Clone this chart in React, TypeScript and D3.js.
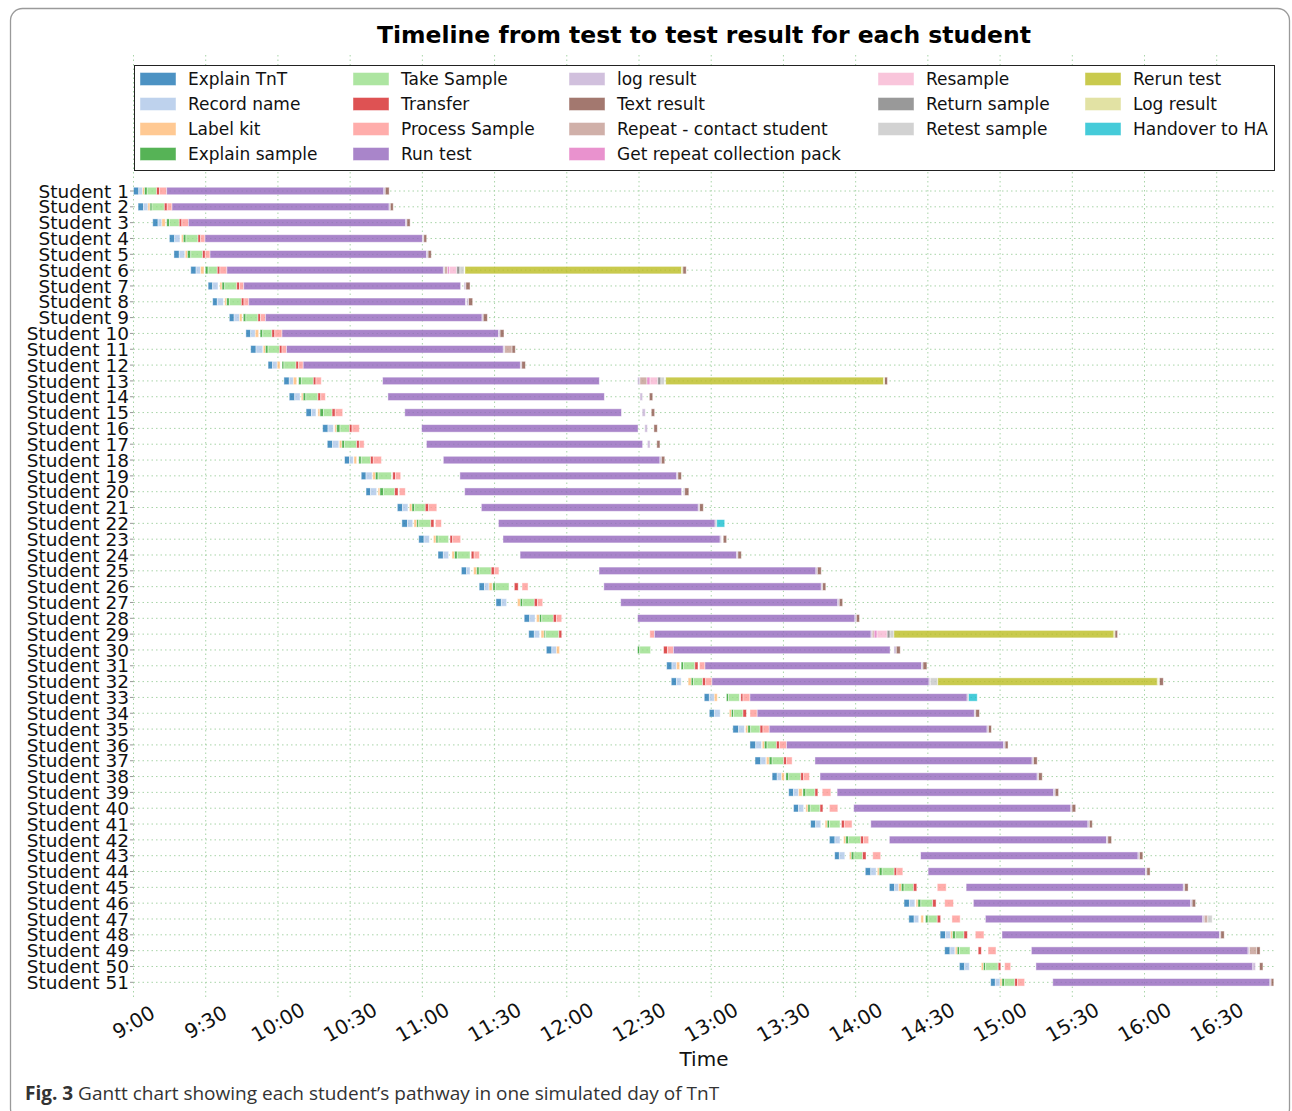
import React from 'react';
import * as d3 from 'd3';

const W = 1292;
const H = 1111;

const students = d3.range(1, 52).map(i => `Student ${i}`);

// x axis: minutes after 9:00
const tickMinutes = [0, 30, 60, 90, 120, 150, 180, 210, 240, 270, 300, 330, 360, 390, 420, 450];
const tickLabels = ['9:00', '9:30', '10:00', '10:30', '11:00', '11:30', '12:00', '12:30', '13:00',
  '13:30', '14:00', '14:30', '15:00', '15:30', '16:00', '16:30'];

const activityNames = ['Explain TnT', 'Record name', 'Label kit', 'Explain sample', 'Take Sample',
  'Transfer', 'Process Sample', 'Run test', 'log result', 'Text result', 'Repeat - contact student',
  'Get repeat collection pack', 'Resample', 'Return sample', 'Retest sample', 'Rerun test',
  'Log result', 'Handover to HA'];
const activityColors = ['#1f77b4', '#aec7e8', '#ffbb78', '#2ca02c', '#98df8a', '#d62728', '#ff9896',
  '#9467bd', '#c5b0d5', '#8c564b', '#c49c94', '#e377c2', '#f7b6d2', '#7f7f7f', '#c7c7c7', '#bcbd22',
  '#dbdb8d', '#17becf'];

// [start, end] in minutes, one pair per student (index = student - 1)
const explainTnT = [[0,2.2],[1.9,4.1],[8.0,10.2],[14.9,17.1],[16.8,19.0],[23.8,26.0],[31.0,32.9],[32.9,34.8],[39.8,41.8],[46.7,48.7],
  [48.7,50.9],[55.9,57.8],[62.5,64.7],[64.7,67.0],[71.7,73.9],[78.6,80.8],[80.5,82.7],[87.7,89.7],[94.6,96.6],[96.6,98.5],
  [109.6,111.8],[111.5,113.8],[118.5,120.7],[126.5,128.7],[136.2,138.4],[143.6,145.8],[150.6,152.8],[162.3,164.6],[164.2,166.5],[171.5,173.8],
  [221.5,223.7],[223.4,225.6],[237.1,239.2],[239.2,241.3],[249.0,251.4],[256.1,258.5],[258.2,260.6],[265.3,267.4],[272.2,274.2],[274.2,276.3],
  [281.3,283.4],[289.1,291.4],[291.3,293.2],[304.0,306.3],[314.0,316.2],[320.1,322.3],[322.1,324.3],[335.1,337.3],[337.0,339.2],[343.1,345.3],[356.1,358.0]];
const recordName = [[2.2,3.8],[4.1,6.0],[10.2,11.8],[17.1,19.3],[19.0,21.3],[26.0,27.9],[32.9,35.1],[34.8,37.3],[41.8,44.0],[48.7,50.6],
  [50.9,53.7],[57.8,59.7],[64.7,66.4],[67.0,69.2],[73.9,75.8],[80.8,83.0],[82.7,85.3],[89.7,91.3],[96.6,99.1],[98.5,101.0],
  [111.8,114.0],[113.8,116.0],[120.7,122.9],[128.7,130.9],[138.4,139.8],[145.8,147.7],[152.8,155.0],[164.6,166.8],[166.5,168.7],[173.8,175.7],
  [223.7,225.6],[225.6,227.5],[239.2,241.3],[241.3,243.7],[251.4,253.8],[258.5,260.9],[260.6,262.7],[267.4,269.2],[274.2,276.3],[276.3,278.4],
  [283.4,285.5],[291.4,293.5],[293.2,295.5],[306.3,308.5],[316.2,317.9],[322.3,324.6],[324.3,326.2],[337.3,339.5],[339.2,341.2],[345.3,347.2],[358.0,360.0]];
const labelKit = [[3.8,4.6],[6.0,6.9],[11.8,13.2],[19.9,20.7],[21.5,22.4],[27.9,29.3],[35.9,36.8],[37.9,38.7],[44.0,45.1],[50.6,52.0],
  [53.9,54.8],[59.7,60.9],[66.4,67.8],[69.7,70.5],[76.6,77.5],[83.6,84.4],[85.5,86.6],[91.6,92.7],[99.4,100.5],[101.6,102.4],
  [114.6,115.7],[116.5,117.7],[124.6,125.7],[132.3,133.4],[141.3,142.6],[147.7,149.0],[159.5,160.7],[167.4,168.7],[169.3,170.6],[175.7,177.0],
  [225.6,226.9],[230.4,231.7],[241.3,242.5],[247.5,248.4],[254.3,255.2],[261.2,262.1],[262.9,264.1],[269.2,270.4],[276.3,277.8],[279.3,280.2],
  [287.3,288.2],[295.0,295.9],[297.4,298.2],[309.0,309.8],[317.9,319.0],[325.1,325.9],[327.1,328.2],[339.5,340.3],[341.4,342.2],[352.2,353.1],[360.0,360.8]];
const explainSample = [[4.6,5.7],[6.9,7.7],[13.8,14.9],[20.7,21.8],[22.4,23.8],[29.8,31.0],[36.8,37.9],[38.7,39.8],[45.6,46.7],[52.6,53.7],
  [54.8,55.9],[61.7,62.5],[68.6,69.7],[70.5,71.6],[77.5,78.9],[84.4,85.8],[86.6,87.7],[93.6,94.6],[100.5,101.6],[102.4,103.8],
  [115.7,116.8],[117.7,118.5],[125.7,126.5],[133.4,134.5],[142.6,143.6],[149.3,150.3],[160.7,161.7],[168.7,169.6],[170.6,171.2],[209.4,210.3],
  [227.5,228.5],[231.7,232.6],[246.3,247.2],[248.4,249.3],[255.2,256.4],[262.1,263.2],[264.1,265.3],[271.0,272.2],[278.1,279.3],[280.2,281.1],
  [288.2,289.1],[295.9,297.1],[298.2,299.3],[309.8,311.0],[319.0,320.1],[325.9,327.1],[329.0,330.1],[340.3,341.4],[342.2,343.1],[353.1,353.9],[360.8,361.9]];
const takeSample = [[5.7,9.6],[7.7,12.8],[14.9,19.0],[21.8,26.8],[23.8,28.7],[31.0,34.8],[37.9,42.9],[39.8,44.8],[46.7,51.7],[53.7,57.5],
  [55.9,60.6],[62.5,67.5],[69.7,74.7],[71.6,76.6],[78.9,82.5],[85.8,89.7],[87.7,92.7],[94.6,98.5],[101.6,107.1],[103.8,108.5],
  [116.8,121.2],[118.5,123.5],[126.5,130.9],[134.5,139.8],[143.6,148.6],[150.3,156.0],[161.7,166.5],[169.6,174.4],[171.2,176.7],[210.3,214.8],
  [228.5,233.2],[232.6,236.4],[247.2,251.7],[249.3,253.2],[256.4,260.3],[263.2,267.1],[265.3,270.1],[272.2,277.2],[279.3,283.1],[281.1,285.2],
  [289.1,293.5],[297.1,302.1],[299.3,302.9],[311.0,316.0],[320.1,324.0],[327.1,332.0],[330.1,333.9],[341.4,345.0],[343.1,347.5],[353.9,359.2],[361.9,366.1]];
const transfer = [[9.6,10.8],[12.8,14.0],[19.0,20.1],[26.8,27.9],[28.7,29.8],[34.8,35.9],[42.9,44.0],[44.8,45.9],[51.7,52.8],[57.5,58.7],
  [60.6,61.7],[67.5,68.6],[74.7,75.8],[76.6,77.8],[82.5,83.8],[89.7,90.8],[92.7,93.8],[98.5,99.6],[107.7,108.8],[108.5,109.9],
  [121.2,122.6],[123.5,124.8],[131.5,132.6],[140.3,141.5],[148.6,149.9],[158.2,159.8],[166.5,167.8],[174.4,175.7],[176.7,177.9],[220.2,221.8],
  [233.2,234.5],[236.4,237.7],[252.3,253.2],[253.2,254.6],[260.3,261.5],[267.1,268.3],[270.1,271.3],[277.2,278.4],[283.1,284.3],[285.2,286.4],
  [294.1,295.3],[302.1,303.3],[302.9,304.3],[316.0,317.1],[324.0,325.4],[332.0,333.4],[333.9,335.3],[345.0,346.4],[350.9,352.2],[359.2,360.3],[366.1,367.2]];
const processSample = [[10.8,13.8],[14.0,16.0],[20.1,22.8],[27.9,29.7],[29.8,31.8],[35.9,38.8],[44.0,45.8],[45.9,47.9],[52.8,54.8],[58.7,61.7],
  [61.7,63.6],[68.6,70.5],[75.8,78.0],[77.8,79.7],[83.8,86.9],[90.8,93.8],[93.8,95.8],[99.6,103.0],[108.8,111.0],[110.4,112.9],
  [122.6,126.0],[125.4,127.9],[132.6,135.9],[141.5,143.7],[149.9,151.8],[161.4,163.9],[167.8,170.0],[175.7,177.9],[214.5,216.4],[221.8,224.3],
  [235.1,237.4],[237.7,240.3],[253.2,256.1],[256.1,259.1],[261.5,264.1],[268.3,271.3],[271.3,273.6],[278.4,280.8],[286.1,289.7],[289.1,292.6],
  [295.3,298.5],[303.3,305.4],[307.1,310.4],[317.1,319.6],[333.9,337.6],[337.0,340.6],[340.0,343.4],[349.7,353.3],[355.0,358.3],[361.9,364.4],[367.2,370.2]];
const runTest = [[13.8,104.0],[16.0,106.2],[22.8,113.1],[29.7,120.0],[31.8,121.8],[38.8,128.7],[45.8,135.9],[47.9,137.9],[54.8,144.8],[61.7,151.7],
  [63.6,153.6],[70.5,160.7],[103.5,193.5],[105.7,195.6],[112.7,202.7],[119.7,209.6],[121.7,211.5],[128.7,218.7],[135.6,225.7],[137.6,227.7],
  [144.5,234.6],[151.6,241.6],[153.5,243.7],[160.6,250.6],[193.4,283.5],[195.4,285.7],[202.4,292.6],[209.4,299.7],[216.4,306.4],[224.3,314.3],
  [237.4,327.4],[240.3,330.5],[256.1,346.3],[259.1,349.3],[264.1,354.6],[271.3,361.5],[283.1,373.3],[285.2,375.4],[292.3,382.3],[299.2,389.4],
  [306.3,396.5],[314.0,404.2],[327.0,417.3],[330.1,420.4],[345.9,436.1],[348.9,439.2],[353.9,444.2],[360.8,451.1],[373.0,463.0],[374.9,465.0],[381.9,472.1]];
const logResult = [[104.0,104.6],[106.2,106.7],[113.1,113.6],[120.0,120.6],[121.8,122.4],[128.7,129.2],[137.3,138.1],[138.4,139.2],[144.8,145.3],[151.7,152.3],
  [153.6,154.2],[160.7,161.3],[209.4,210.4],[210.4,211.5],[211.3,212.6],[212.4,213.5],[213.5,214.6],[218.7,219.3],[225.7,226.2],[228.4,229.0],
  [234.6,235.2],[241.6,242.3],[243.7,244.2],[250.6,251.1],[283.5,284.1],[285.7,286.3],[292.6,293.2],[299.7,300.3],[306.4,306.9],[315.9,316.9],
  [327.4,328.0],[330.5,331.0],[346.3,346.9],[349.3,349.9],[354.6,355.2],[361.5,362.1],[373.3,373.9],[375.4,376.0],[382.3,382.9],[389.4,389.9],
  [396.5,397.1],[404.2,404.8],[417.3,417.9],[420.4,421.0],[436.1,436.7],[439.2,439.8],[444.2,444.8],[451.1,451.7],[463.0,463.6],[465.0,466.1],[472.1,472.6]];
const textResult = [[104.6,106.2],[106.7,107.9],[113.6,114.9],[120.6,121.8],[122.4,123.7],[228.2,229.6],[138.1,139.8],[139.2,140.9],[145.3,147.0],[152.3,153.9],
  [157.2,158.6],[161.3,162.8],[312.0,313.2],[214.3,215.7],[215.1,216.5],[216.2,217.6],[217.4,218.7],[219.3,220.7],[226.2,227.6],[229.0,230.7],
  [235.2,236.7],null,[245.0,246.4],[251.1,252.5],[284.1,285.7],[286.3,287.6],[293.2,294.6],[300.3,301.6],[407.7,408.8],[316.9,318.5],
  [328.0,329.6],[426.2,427.8],null,[349.9,351.4],[355.2,356.4],[362.1,363.3],[373.9,375.4],[376.0,377.5],[382.9,384.3],[389.9,391.4],
  [397.1,398.3],[404.8,406.3],[417.9,419.3],[421.0,422.3],[436.7,438.1],[439.8,441.2],null,[451.7,453.1],[466.6,468.0],[467.8,469.2],[472.6,473.7]];

// repeat pathway: [student, start, end]
const repeatContact = [[6,129.2,130.4],[11,154.2,157.2],[13,210.4,213.3],[29,306.9,307.7],[47,444.8,446.3],[49,463.6,466.6]];
const getRepeatPack = [[6,130.4,131.2],[13,213.3,214.6],[29,307.7,308.9]];
const resample = [[6,131.2,134.3],[13,214.6,217.8],[29,308.9,313.1]];
const returnSample = [[6,134.3,135.6],[13,217.8,219.1],[29,313.1,314.3]];
const retestSample = [[6,135.6,137.3],[13,219.1,220.5],[29,314.3,315.9],[32,331.0,334.1],[47,446.3,448.1]];
const rerunTest = [[6,137.7,227.7],[13,221.1,311.6],[29,315.9,407.3],[32,334.1,425.3]];
const logResultRerun = [[6,227.7,228.2],[13,311.6,312.0],[29,407.3,407.7],[32,425.3,425.8]];
const handover = [[22,242.3,245.6],[33,346.9,350.5]];

type Seg = { student: string; start: number; end: number; act: number };

const perStudent = [explainTnT, recordName, labelKit, explainSample, takeSample, transfer,
  processSample, runTest, logResult, textResult];
const perEvent = [repeatContact, getRepeatPack, resample, returnSample, retestSample, rerunTest,
  logResultRerun, handover];

const segments: Seg[] = [];
perStudent.forEach((arr, a) => {
  arr.forEach((p, i) => {
    if (p) segments.push({ student: students[i], start: p[0], end: p[1], act: a });
  });
});
perEvent.forEach((arr, k) => {
  arr.forEach(p => segments.push({ student: `Student ${p[0]}`, start: p[1], end: p[2], act: 10 + k }));
});

const x = d3.scaleLinear().domain([0, 474]).range([133.5, 1274.5]);
const y = d3.scalePoint<string>().domain(students).range([191, 982.3]);
const barH = 7.5;
const plotTop = 55;
const plotBottom = 998;

const legendCols = [140, 353, 569, 878, 1085];
const legendRows = [79, 104, 129, 154];
const legendPerCol = [4, 4, 4, 3, 3];

export default function App() {
  const font = 'DejaVu Sans, sans-serif';
  let idx = 0;
  const legendItems: { name: string; color: string; cx: number; cy: number }[] = [];
  legendPerCol.forEach((n, c) => {
    for (let r = 0; r < n; r++) {
      legendItems.push({ name: activityNames[idx], color: activityColors[idx], cx: legendCols[c], cy: legendRows[r] });
      idx++;
    }
  });

  return (
    <svg width={W} height={H} style={{ position: 'absolute', left: 0, top: 0, background: '#fff' }} fontFamily={font}>
      <rect x={10.5} y={8.5} width={1279} height={1112} rx={12} fill="none" stroke="#9a9a9a" strokeWidth={1.3} />

      {/* grid */}
      {tickMinutes.map(t => (
        <line key={'vg' + t} x1={x(t)} x2={x(t)} y1={plotTop} y2={plotBottom}
          stroke="#a8d4a8" strokeWidth={1} strokeDasharray="1.5,3" />
      ))}
      {students.map(s => (
        <line key={'hg' + s} x1={x(0)} x2={x(474)} y1={y(s)} y2={y(s)}
          stroke="#a8d4a8" strokeWidth={1} strokeDasharray="1.5,3" />
      ))}

      {/* bars */}
      {segments.map((d, i) => (
        <rect key={i} x={x(d.start)} y={(y(d.student) as number) - barH / 2}
          width={Math.max(0.8, x(d.end) - x(d.start))} height={barH}
          fill={activityColors[d.act]} fillOpacity={0.8}
          stroke="#ffffff" strokeOpacity={0.55} strokeWidth={0.8} />
      ))}

      {/* y axis */}
      {students.map(s => (
        <g key={'yl' + s}>
          <line x1={130} x2={133.5} y1={y(s)} y2={y(s)} stroke="#999" strokeWidth={1} />
          <text x={129} y={y(s)} dy="0.36em" textAnchor="end" fontSize={18.5} fill="#111">{s}</text>
        </g>
      ))}

      {/* x axis */}
      {tickMinutes.map((t, i) => (
        <text key={'xl' + t} transform={`translate(${x(t)},1022) rotate(-30)`} textAnchor="middle"
          dy="0.36em" fontSize={20} fill="#111">{tickLabels[i]}</text>
      ))}
      <text x={704} y={1059} dy="0.36em" textAnchor="middle" fontSize={20} fill="#111">Time</text>

      {/* title */}
      <text x={704} y={35} dy="0.36em" textAnchor="middle" fontSize={23.5} fontWeight="bold" fill="#000">
        Timeline from test to test result for each student
      </text>

      {/* legend */}
      <rect x={134.5} y={65.5} width={1140} height={105} fill="#fff" stroke="#222" strokeWidth={1} />
      {legendItems.map(it => (
        <g key={it.name}>
          <rect x={it.cx} y={it.cy - 6.5} width={36} height={13} fill={it.color} fillOpacity={0.8}
            stroke="#fff" strokeOpacity={0.55} strokeWidth={0.8} />
          <text x={it.cx + 48} y={it.cy} dy="0.36em" fontSize={17} fill="#111">{it.name}</text>
        </g>
      ))}

      {/* caption */}
      <text x={25} y={1100} fontFamily="Open Sans, Liberation Sans, sans-serif" fontSize={19} fill="#333">
        <tspan fontWeight="bold">Fig. 3</tspan>
        <tspan> Gantt chart showing each student’s pathway in one simulated day of TnT</tspan>
      </text>
    </svg>
  );
}
